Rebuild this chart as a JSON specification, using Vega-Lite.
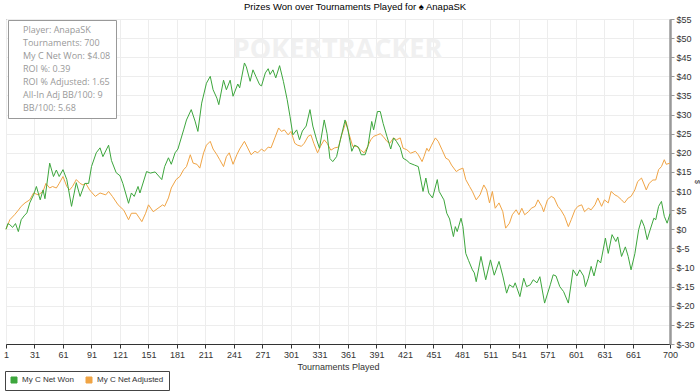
{
  "$schema": "https://vega.github.io/schema/vega-lite/v6.json",
  "width": 664,
  "height": 325,
  "autosize": {"type": "none"},
  "padding": {"left": 6, "top": 19, "right": 30, "bottom": 48},
  "background": "white",
  "title": {
    "text": "Prizes Won over Tournaments Played for \u2660 AnapaSK",
    "font": "Liberation Sans",
    "fontSize": 9.5,
    "fontWeight": "normal",
    "color": "#000000",
    "anchor": "middle",
    "dx": 17,
    "offset": 4
  },
  "config": {
    "view": {"stroke": "#555555", "strokeWidth": 1},
    "axis": {"labelFont": "Liberation Sans", "titleFont": "Liberation Sans"}
  },
  "datasets": {
    "won": [
      {"t":1,"v":0},{"t":3,"v":1.5},{"t":5,"v":1.2},{"t":8,"v":0.5},{"t":11,"v":1.5},{"t":14,"v":-0.6},{"t":17,"v":2.5},{"t":20,"v":3.5},{"t":23,"v":4.3},{"t":26,"v":6.9},{"t":30,"v":9},{"t":33,"v":11.2},{"t":37,"v":7.7},{"t":40,"v":10.3},{"t":42,"v":8},{"t":47,"v":17.3},{"t":51,"v":13.8},{"t":54,"v":15.5},{"t":57,"v":13.8},{"t":61,"v":15.6},{"t":65,"v":13},{"t":70,"v":6},{"t":75,"v":12.2},{"t":79,"v":8.6},{"t":84,"v":12},{"t":88,"v":12},{"t":91,"v":16.4},{"t":96,"v":20},{"t":100,"v":21.3},{"t":103,"v":19},{"t":109,"v":22},{"t":112,"v":18},{"t":117,"v":14.8},{"t":121,"v":14},{"t":124,"v":12},{"t":130,"v":6.8},{"t":133,"v":9.5},{"t":136,"v":8.6},{"t":140,"v":11.2},{"t":142,"v":9.5},{"t":149,"v":15.1},{"t":153,"v":14.7},{"t":158,"v":15},{"t":165,"v":13},{"t":168,"v":16.4},{"t":172,"v":18.7},{"t":175,"v":17},{"t":179,"v":20},{"t":182,"v":21},{"t":188,"v":26},{"t":191,"v":28.6},{"t":196,"v":31.3},{"t":200,"v":28.3},{"t":203,"v":25.6},{"t":207,"v":33},{"t":212,"v":38.2},{"t":216,"v":40},{"t":219,"v":36.5},{"t":223,"v":34.3},{"t":225,"v":32.6},{"t":230,"v":39},{"t":233,"v":36.5},{"t":237,"v":39},{"t":240,"v":34.8},{"t":245,"v":38},{"t":247,"v":37},{"t":252,"v":43.5},{"t":254,"v":42.5},{"t":258,"v":38.7},{"t":261,"v":41.7},{"t":264,"v":40},{"t":268,"v":37.8},{"t":270,"v":37.5},{"t":274,"v":40.9},{"t":277,"v":42},{"t":279,"v":40.5},{"t":282,"v":41.7},{"t":285,"v":39.6},{"t":289,"v":42.8},{"t":293,"v":38.7},{"t":297,"v":33.9},{"t":300,"v":29.5},{"t":303,"v":24.7},{"t":307,"v":26},{"t":310,"v":23.4},{"t":313,"v":25.7},{"t":317,"v":27},{"t":321,"v":31.3},{"t":324,"v":27},{"t":328,"v":23.4},{"t":331,"v":21.2},{"t":336,"v":28.6},{"t":339,"v":25},{"t":342,"v":18.5},{"t":345,"v":17.7},{"t":349,"v":19},{"t":353,"v":23.4},{"t":358,"v":28.6},{"t":361,"v":26},{"t":365,"v":20.4},{"t":368,"v":22},{"t":372,"v":21.5},{"t":375,"v":19.5},{"t":379,"v":19.5},{"t":382,"v":21.7},{"t":386,"v":28.2},{"t":388,"v":26},{"t":392,"v":30.8},{"t":395,"v":30.8},{"t":398,"v":27.7},{"t":402,"v":24.3},{"t":406,"v":21},{"t":409,"v":23.9},{"t":412,"v":23},{"t":416,"v":21.4},{"t":419,"v":18.6},{"t":423,"v":18},{"t":426,"v":17.3},{"t":431,"v":16.8},{"t":435,"v":16.4},{"t":437,"v":13.9},{"t":440,"v":9.9},{"t":443,"v":13.4},{"t":446,"v":9.5},{"t":450,"v":8.2},{"t":455,"v":13},{"t":457,"v":9.9},{"t":462,"v":7.7},{"t":465,"v":4.2},{"t":468,"v":2.7},{"t":472,"v":-1.9},{"t":474,"v":0.7},{"t":476,"v":-0.6},{"t":480,"v":2.9},{"t":482,"v":0.7},{"t":485,"v":-6.3},{"t":488,"v":-8.2},{"t":492,"v":-10.6},{"t":494,"v":-11.4},{"t":496,"v":-13.7},{"t":501,"v":-7.1},{"t":506,"v":-13.2},{"t":511,"v":-8},{"t":515,"v":-12},{"t":520,"v":-8.4},{"t":524,"v":-12.2},{"t":528,"v":-16.7},{"t":531,"v":-14.5},{"t":535,"v":-15.2},{"t":537,"v":-14},{"t":542,"v":-17.6},{"t":546,"v":-12.8},{"t":549,"v":-15},{"t":553,"v":-14.5},{"t":556,"v":-13.2},{"t":560,"v":-14},{"t":563,"v":-12.4},{"t":568,"v":-19.3},{"t":574,"v":-14.5},{"t":577,"v":-11.9},{"t":580,"v":-12.2},{"t":584,"v":-15},{"t":588,"v":-16.3},{"t":593,"v":-19.3},{"t":598,"v":-10.6},{"t":602,"v":-12.2},{"t":605,"v":-10.6},{"t":609,"v":-12.2},{"t":611,"v":-15},{"t":614,"v":-12.8},{"t":617,"v":-9.7},{"t":620,"v":-12.2},{"t":624,"v":-8},{"t":627,"v":-8.8},{"t":632,"v":-2.3},{"t":635,"v":-6.3},{"t":639,"v":-1.4},{"t":643,"v":-3.2},{"t":645,"v":-2},{"t":649,"v":-7.1},{"t":653,"v":-4.6},{"t":656,"v":-7.1},{"t":659,"v":-10.6},{"t":663,"v":-6.4},{"t":667,"v":-0.1},{"t":670,"v":2.5},{"t":673,"v":0.7},{"t":676,"v":-2.7},{"t":678,"v":-1},{"t":683,"v":2.9},{"t":685,"v":2.5},{"t":688,"v":6},{"t":691,"v":7.3},{"t":694,"v":3.4},{"t":697,"v":1.6},{"t":700,"v":4.08}
    ],
    "adj": [
      {"t":1,"v":0},{"t":5,"v":2.5},{"t":10,"v":3.8},{"t":14,"v":5},{"t":17,"v":6},{"t":21,"v":6.9},{"t":26,"v":7.7},{"t":30,"v":9.5},{"t":35,"v":9},{"t":40,"v":9.9},{"t":43,"v":12},{"t":47,"v":10.8},{"t":50,"v":11.2},{"t":54,"v":10.8},{"t":57,"v":12},{"t":61,"v":13.8},{"t":65,"v":11.2},{"t":68,"v":10.3},{"t":71,"v":11.2},{"t":75,"v":13},{"t":79,"v":12},{"t":82,"v":11.6},{"t":85,"v":12},{"t":89,"v":10.3},{"t":95,"v":8.6},{"t":100,"v":9.5},{"t":106,"v":9},{"t":109,"v":9.9},{"t":113,"v":8.6},{"t":119,"v":6.4},{"t":125,"v":5},{"t":130,"v":2.5},{"t":133,"v":4.2},{"t":138,"v":4.2},{"t":144,"v":2},{"t":148,"v":4.2},{"t":151,"v":6.4},{"t":156,"v":4.6},{"t":161,"v":5.5},{"t":166,"v":6.4},{"t":168,"v":6},{"t":172,"v":8.2},{"t":175,"v":10.8},{"t":180,"v":13},{"t":184,"v":13.8},{"t":188,"v":15.6},{"t":191,"v":16.4},{"t":195,"v":19.5},{"t":198,"v":17.3},{"t":202,"v":17},{"t":205,"v":16},{"t":209,"v":20},{"t":212,"v":22},{"t":216,"v":23},{"t":219,"v":21},{"t":223,"v":19.5},{"t":226,"v":18.2},{"t":230,"v":16.4},{"t":233,"v":19},{"t":236,"v":20},{"t":240,"v":17},{"t":244,"v":19.5},{"t":247,"v":21},{"t":252,"v":23},{"t":255,"v":21.5},{"t":259,"v":19.5},{"t":263,"v":20.4},{"t":266,"v":20},{"t":270,"v":21},{"t":273,"v":20.4},{"t":277,"v":21.5},{"t":280,"v":21.3},{"t":284,"v":23.9},{"t":288,"v":26.5},{"t":291,"v":25.6},{"t":294,"v":26},{"t":298,"v":24.7},{"t":301,"v":25.6},{"t":305,"v":22.5},{"t":308,"v":22},{"t":312,"v":21.7},{"t":315,"v":22.5},{"t":319,"v":24.3},{"t":322,"v":24.7},{"t":325,"v":22.5},{"t":329,"v":20},{"t":332,"v":21.7},{"t":336,"v":23.4},{"t":339,"v":22.5},{"t":343,"v":20.7},{"t":347,"v":21.3},{"t":351,"v":21.5},{"t":354,"v":24.4},{"t":359,"v":28.2},{"t":362,"v":25},{"t":366,"v":21.7},{"t":370,"v":21.7},{"t":374,"v":20.8},{"t":378,"v":20},{"t":381,"v":21.3},{"t":385,"v":23.4},{"t":388,"v":24.3},{"t":392,"v":24.7},{"t":395,"v":25},{"t":398,"v":24.3},{"t":402,"v":23},{"t":405,"v":22.5},{"t":409,"v":23.9},{"t":412,"v":23.4},{"t":416,"v":23.9},{"t":419,"v":21.2},{"t":423,"v":20.8},{"t":427,"v":19.9},{"t":432,"v":20.4},{"t":435,"v":19.5},{"t":439,"v":17.7},{"t":441,"v":19},{"t":444,"v":21.2},{"t":446,"v":20.4},{"t":449,"v":22},{"t":453,"v":23.9},{"t":456,"v":23},{"t":460,"v":20.8},{"t":464,"v":18.6},{"t":467,"v":18.2},{"t":470,"v":16.8},{"t":475,"v":15.1},{"t":478,"v":15.6},{"t":482,"v":16},{"t":485,"v":13},{"t":489,"v":11.2},{"t":492,"v":9.9},{"t":496,"v":7.7},{"t":500,"v":9},{"t":504,"v":11.6},{"t":507,"v":10.3},{"t":510,"v":6.9},{"t":513,"v":9.9},{"t":516,"v":5.5},{"t":520,"v":6.9},{"t":524,"v":4.6},{"t":527,"v":0.3},{"t":531,"v":1.6},{"t":534,"v":3.8},{"t":538,"v":5.1},{"t":541,"v":3.8},{"t":544,"v":5.5},{"t":547,"v":3.8},{"t":551,"v":4.6},{"t":554,"v":5.5},{"t":558,"v":6},{"t":561,"v":7.7},{"t":565,"v":6},{"t":567,"v":4.6},{"t":571,"v":7.7},{"t":575,"v":8.6},{"t":578,"v":8.2},{"t":582,"v":6},{"t":585,"v":5.1},{"t":589,"v":3.4},{"t":593,"v":0.7},{"t":596,"v":2.5},{"t":600,"v":5.1},{"t":603,"v":6},{"t":607,"v":6.4},{"t":610,"v":4.6},{"t":614,"v":5.5},{"t":617,"v":5.1},{"t":621,"v":6.4},{"t":624,"v":8.2},{"t":628,"v":6},{"t":631,"v":7.7},{"t":635,"v":6.9},{"t":638,"v":9.9},{"t":642,"v":9},{"t":645,"v":8.6},{"t":649,"v":7.7},{"t":652,"v":6.9},{"t":656,"v":8.2},{"t":659,"v":8.6},{"t":663,"v":10.3},{"t":666,"v":12.5},{"t":670,"v":13.4},{"t":673,"v":11.6},{"t":675,"v":10.3},{"t":678,"v":12},{"t":682,"v":12.9},{"t":685,"v":12.9},{"t":688,"v":15.6},{"t":691,"v":16.4},{"t":694,"v":18.2},{"t":696,"v":17},{"t":700,"v":17.3}
    ],
    "stats": [
      {"stat": "Player: AnapaSK"},
      {"stat": "Tournaments: 700"},
      {"stat": "My C Net Won: $4.08"},
      {"stat": "ROI %: 0.39"},
      {"stat": "ROI % Adjusted: 1.65"},
      {"stat": "All-In Adj BB/100: 9"},
      {"stat": "BB/100: 5.68"}
    ]
  },
  "encoding": {
    "x": {
      "type": "quantitative",
      "scale": {"domain": [1, 700], "nice": false, "zero": false},
      "axis": {
        "values": [1,31,61,91,121,151,181,211,241,271,301,331,361,391,421,451,481,511,541,571,601,631,661,700],
        "title": "Tournaments Played",
        "titleFontSize": 9,
        "titleFontWeight": "normal",
        "titleColor": "#333333",
        "titlePadding": 3,
        "labelFontSize": 9,
        "labelColor": "#333333",
        "labelFlush": false,
        "labelPadding": 2,
        "domainColor": "#333333",
        "tickColor": "#333333",
        "tickSize": 4,
        "grid": true,
        "gridColor": "#ededed"
      }
    },
    "y": {
      "type": "quantitative",
      "scale": {"domain": [-30, 55], "nice": false, "zero": false},
      "axis": {
        "orient": "right",
        "values": [-30,-25,-20,-15,-10,-5,0,5,10,15,20,25,30,35,40,45,50,55],
        "labelExpr": "'$' + datum.value",
        "labelFontSize": 9,
        "labelColor": "#333333",
        "labelPadding": 2,
        "domainColor": "#999999",
        "domainWidth": 2.5,
        "tickColor": "#999999",
        "tickSize": 4,
        "grid": true,
        "gridColor": "#ededed",
        "title": "$",
        "titleFontSize": 7,
        "titleFontWeight": "normal",
        "titleColor": "#333333",
        "titlePadding": -1
      }
    }
  },
  "layer": [
    {
      "data": {"values": [{"label": "POKERTRACKER"}]},
      "mark": {"type": "text", "font": "Open Sans", "fontWeight": "bold", "fontSize": 27, "color": "#f0f0f0"},
      "encoding": {
        "x": {"datum": 350},
        "y": {"datum": 47},
        "text": {"field": "label"}
      }
    },
    {
      "mark": {"type": "rule", "color": "#222222", "strokeWidth": 1},
      "encoding": {"y": {"datum": 0}, "x": null}
    },
    {
      "data": {"name": "adj"},
      "mark": {"type": "line", "strokeWidth": 1, "interpolate": "linear"},
      "encoding": {
        "x": {"field": "t", "type": "quantitative"},
        "y": {"field": "v", "type": "quantitative"},
        "color": {"datum": "My C Net Adjusted"}
      }
    },
    {
      "data": {"name": "won"},
      "mark": {"type": "line", "strokeWidth": 1, "interpolate": "linear"},
      "encoding": {
        "x": {"field": "t", "type": "quantitative"},
        "y": {"field": "v", "type": "quantitative"},
        "color": {
          "datum": "My C Net Won",
          "scale": {"domain": ["My C Net Won", "My C Net Adjusted"], "range": ["#3da63d", "#f0a445"]},
          "legend": {
            "title": null,
            "orient": "none",
            "legendX": -1,
            "legendY": 352,
            "direction": "horizontal",
            "columns": 2,
            "symbolType": "square",
            "symbolSize": 36,
            "labelFont": "Liberation Sans",
            "labelFontSize": 8,
            "labelColor": "#333333",
            "labelOffset": 4,
            "columnPadding": 10,
            "padding": 5,
            "strokeColor": "#444444",
            "fillColor": "white",
            "encode": {
              "symbols": {
                "update": {
                  "fill": {"scale": "color", "field": "value"},
                  "stroke": {"value": "#333333"},
                  "strokeWidth": {"value": 1},
                  "shape": {"value": "square"},
                  "opacity": {"value": 1}
                }
              }
            }
          }
        }
      }
    },
    {
      "data": {"name": "stats"},
      "mark": {"type": "point", "opacity": 0},
      "encoding": {
        "x": null,
        "y": null,
        "shape": {
          "field": "stat",
          "type": "nominal",
          "scale": {"domain": ["Player: AnapaSK", "Tournaments: 700", "My C Net Won: $4.08", "ROI %: 0.39", "ROI % Adjusted: 1.65", "All-In Adj BB/100: 9", "BB/100: 5.68"]},
          "legend": {
            "title": null,
            "orient": "none",
            "legendX": 2,
            "legendY": 1,
            "symbolOpacity": 0,
            "symbolSize": 1,
            "symbolStrokeWidth": 0,
            "labelOffset": 1,
            "labelFont": "Open Sans",
            "labelFontSize": 9,
            "labelColor": "#999999",
            "labelExpr": "datum.label + '      '",
            "rowPadding": 3,
            "padding": 5,
            "strokeColor": "#999999",
            "fillColor": "white"
          }
        }
      }
    }
  ]
}
